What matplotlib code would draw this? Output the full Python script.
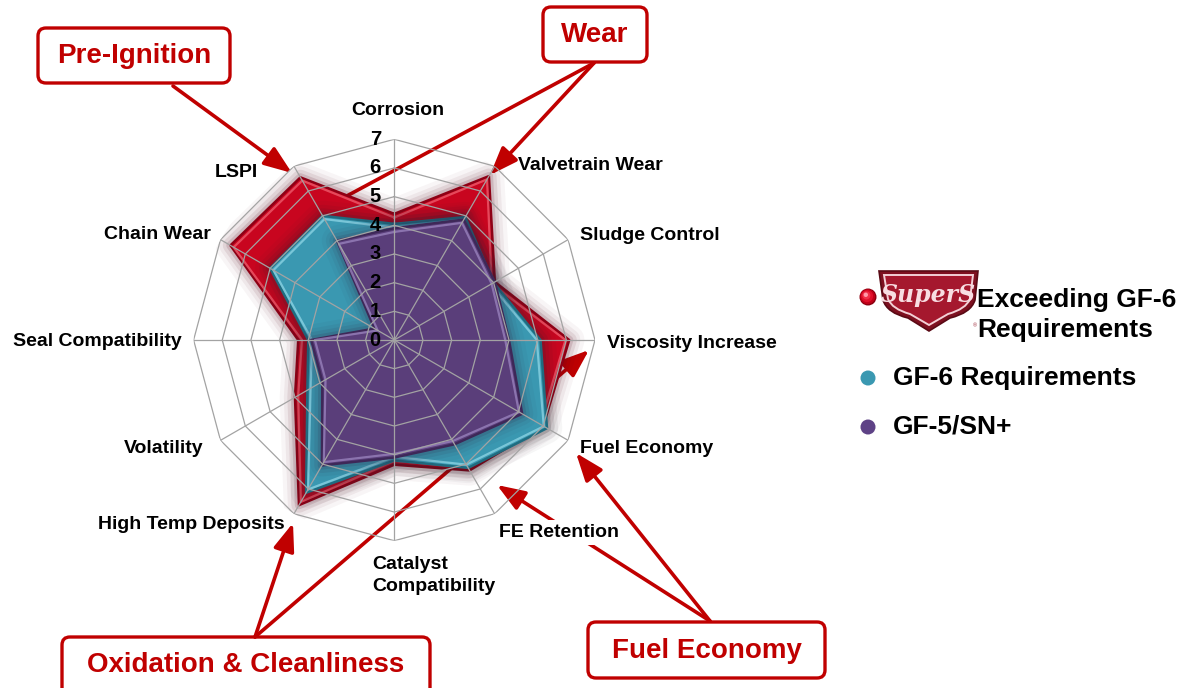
import numpy as np
import matplotlib
matplotlib.use('Agg')
import matplotlib.pyplot as plt
from matplotlib.patches import FancyBboxPatch, Circle, PathPatch
from matplotlib.path import Path

# ---------------- data ----------------
categories = ['Corrosion', 'Valvetrain Wear', 'Sludge Control', 'Viscosity Increase',
              'Fuel Economy', 'FE Retention', 'Catalyst\nCompatibility', 'High Temp Deposits',
              'Volatility', 'Seal Compatibility', 'Chain Wear', 'LSPI']
super_s = [4.4, 6.6, 4.05, 6.1, 6.0, 5.25, 4.35, 6.65, 4.0, 3.35, 6.6, 6.55]
gf6 = [4.05, 4.95, 4.0, 5.1, 6.15, 5.15, 4.2, 6.15, 3.5, 3.0, 5.0, 5.0]
gf5 = [3.9, 4.85, 4.05, 4.0, 5.15, 4.2, 4.1, 5.05, 2.9, 2.9, 0.8, 4.0]
ticks = [0, 1, 2, 3, 4, 5, 6, 7]
series_names = ['Exceeding GF-6\nRequirements', 'GF-6 Requirements', 'GF-5/SN+']
callouts = ['Pre-Ignition', 'Wear', 'Oxidation & Cleanliness', 'Fuel Economy']

RED = '#C8051F'
TEAL = '#3A98B1'
PURPLE = '#5A3E7A'
BOXRED = '#C00000'

W, H = 1181, 688
plt.rcParams['font.family'] = ['Liberation Sans', 'DejaVu Sans']
fig = plt.figure(figsize=(W / 100, H / 100), dpi=100)
fig.patch.set_facecolor('white')

bg = fig.add_axes([0, 0, 1, 1], zorder=0)
bg.set_xlim(0, W)
bg.set_ylim(H, 0)
bg.axis('off')

cx, cy, R = 394.3, 340.0, 200.7
ax = fig.add_axes([(cx - R) / W, (H - cy - R) / H, 2 * R / W, 2 * R / H],
                  projection='polar', zorder=1)
ax.set_theta_zero_location('N')
ax.set_theta_direction(-1)
ax.set_ylim(0, max(ticks))
ax.set_xticks([])
ax.set_yticks([])
ax.grid(False)
ax.spines['polar'].set_visible(False)
ax.patch.set_alpha(0)

n = len(categories)
theta = np.arange(n) * 2 * np.pi / n
tc = np.append(theta, theta[0])


def closed(v):
    v = np.asarray(v, dtype=float)
    return np.append(v, v[0])


# grid (drawn above the filled shapes, like the original)
for t in ticks[1:]:
    ax.plot(tc, [t] * (n + 1), color='#A3A3A3', lw=0.9, zorder=20)
for th in theta:
    ax.plot([th, th], [0, ticks[-1]], color='#A3A3A3', lw=0.9, zorder=20)


def draw_series(vals, fill, edge, hi, glow, z):
    v = closed(vals)
    for lw, a in [(22, 0.04), (16, 0.06), (11, 0.09), (6, 0.14)]:
        ax.plot(tc, v, color=glow, lw=lw, alpha=a, zorder=z)
    ax.fill(tc, v, color=fill, lw=0, zorder=z + 0.1)
    ax.plot(tc, v, color=edge, lw=1.8, zorder=z + 0.2)
    ax.plot(tc, np.clip(v - 0.13, 0, None), color=hi, lw=1.6, alpha=0.75, zorder=z + 0.3)


draw_series(super_s, RED, '#8E0015', '#F06070', '#5A0A20', 5)
draw_series(gf6, TEAL, '#1F6C80', '#8FD6E6', '#202830', 8)
draw_series(gf5, PURPLE, '#3E2858', '#9C86C0', '#302040', 11)

# radial tick labels
for t in ticks:
    ax.annotate(str(t), xy=(0, t), xytext=(-19, 0), textcoords='offset pixels',
                ha='center', va='center', fontsize=14.5, fontweight='bold',
                color='black', zorder=30)

# category labels
label_layout = [  # (dx, dy) pixel offsets from the outer vertex, alignment
    ((4, 29), 'center'), ((23, 1), 'left'), ((12, 4), 'left'), ((12, -3), 'left'),
    ((12, -8), 'left'), ((4, -19), 'left'), ((-22, -35), 'left'), ((-9, -11), 'right'),
    ((-17, -8), 'right'), ((-12, -2), 'right'), ((-10, 5), 'right'), ((-36, -6), 'right'),
]
for th, lab, ((dx, dy), ha) in zip(theta, categories, label_layout):
    kw = {}
    if lab == 'FE Retention':
        kw['bbox'] = dict(facecolor='white', edgecolor='none', pad=3)
    ax.annotate(lab, xy=(th, ticks[-1]), xytext=(dx, dy), textcoords='offset pixels',
                ha=ha, va='center', fontsize=14, fontweight='bold', color='black',
                zorder=40, annotation_clip=False, linespacing=1.4, **kw)


# callout arrows (behind the chart)
def fp(x, y):
    return (x, H - y)


arrow_style = '-|>,head_length=0.85,head_width=0.32'
arrows = [
    ((173, 86), (292, 173), True),
    ((594, 63), (490, 175), True),
    ((594, 63), (330, 205), False),
    ((255, 637), (293, 523), True),
    ((255, 637), (589, 350), True),
    ((710, 621), (576, 453), True),
    ((710, 621), (497, 485), True),
]
for (x0, y0), (x1, y1), head in arrows:
    props = dict(arrowstyle=arrow_style if head else '-', color=BOXRED, lw=2.6,
                 mutation_scale=20, shrinkA=0, shrinkB=0)
    ax.annotate('', xy=fp(x1, y1), xycoords='figure pixels', xytext=fp(x0, y0),
                textcoords='figure pixels', arrowprops=props, annotation_clip=False,
                zorder=3)

# callout boxes
box_geo = [(38, 28, 192, 55), (543, 7, 104, 55), (62, 637, 368, 62), (588, 622, 237, 56)]
text_y = [56, 35, 665, 651]
for (x, y, w, h), ty, txt in zip(box_geo, text_y, callouts):
    bg.add_patch(FancyBboxPatch((x, y), w, h, boxstyle='round,pad=0,rounding_size=8',
                                facecolor='white', edgecolor=BOXRED, lw=2.4))
    bg.text(x + w / 2, ty, txt, ha='center', va='center', fontsize=20,
            fontweight='bold', color=BOXRED)

# legend
# glossy red sphere
sx, sy = 868, 297
for r, c in [(8.5, '#8A0010'), (7.5, '#C00018'), (6, '#E0102A'), (4, '#F03048'), (2.2, '#FF9AA8')]:
    off = (8.5 - r) * 0.35
    bg.add_patch(Circle((sx - off, sy - off), r, color=c, lw=0))
# Super S shield logo
codes = [Path.MOVETO, Path.LINETO, Path.LINETO, Path.CURVE3, Path.CURVE3, Path.LINETO,
         Path.LINETO, Path.CURVE3, Path.CURVE3, Path.LINETO, Path.CLOSEPOLY]
outer = [(879, 271), (978, 271), (975, 300), (971, 313), (950, 318), (929, 331),
         (908, 318), (887, 313), (883, 300), (879, 271), (879, 271)]
bg.add_patch(PathPatch(Path(outer, codes), facecolor='#7E1020', edgecolor='#5A0A15', lw=1.2))
inner = [(884, 275), (973, 275), (970, 299), (966, 309), (948, 314), (929, 325),
         (910, 314), (892, 309), (888, 299), (884, 275), (884, 275)]
bg.add_patch(PathPatch(Path(inner, codes), facecolor='#A5182E', edgecolor='#F3D0D6', lw=1.4))
bg.text(928, 295, 'SuperS', ha='center', va='center', fontsize=17, color='#F8DDE2',
        style='italic', fontweight='bold', family=['DejaVu Serif'])
bg.text(975, 326, '®', ha='center', va='center', fontsize=4, color='#A0303F')

legend_dots = [None, (868, 378, TEAL), (868, 427, '#5E4286')]
legend_text = [(977, 315), (893, 378), (893, 427)]
for i, name in enumerate(series_names):
    if legend_dots[i] is not None:
        x, y, c = legend_dots[i]
        bg.add_patch(Circle((x, y), 7.5, color=c, lw=0))
    tx, ty = legend_text[i]
    bg.text(tx, ty, name, ha='left', va='center', fontsize=19, fontweight='bold',
            color='black', linespacing=1.3)

fig.savefig('out.png', dpi=100, facecolor='white')
